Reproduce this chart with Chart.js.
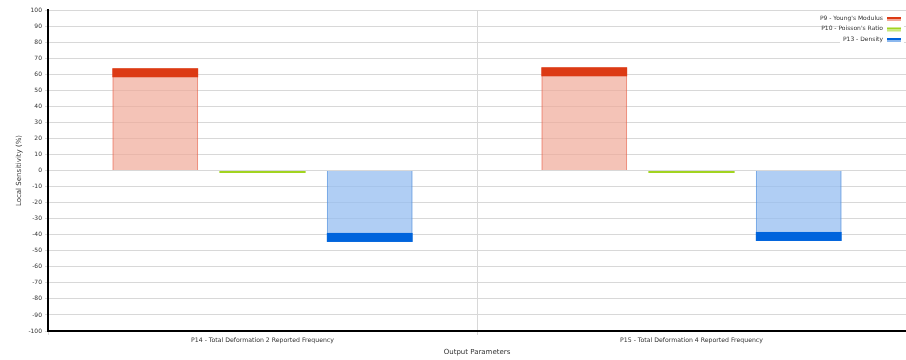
<!DOCTYPE html>
<html>
<head>
<meta charset="utf-8">
<script src="https://cdn.jsdelivr.net/npm/chart.js@4.4.1/dist/chart.umd.min.js"></script>
<style>
  html, body { margin: 0; padding: 0; background: #fff; }
  #wrap { width: 906px; height: 360px; }
</style>
</head>
<body>
<div id="wrap"><canvas id="sensitivityChart"></canvas></div>
<script>
// output parameters on the x axis
let outputParams = ['P14 - Total Deformation 2 Reported Frequency', 'P15 - Total Deformation 4 Reported Frequency'];

// local sensitivity (%) of each output to each input parameter
let youngsModulus = [63.7, 64.3];
let poissonsRatio = [-1.5, -1.5];
let density = [-44.5, -43.9];

let yTicks = [-100, -90, -80, -70, -60, -50, -40, -30, -20, -10, 0, 10, 20, 30, 40, 50, 60, 70, 80, 90, 100];

const FONT = '"DejaVu Sans", sans-serif';

// dark band drawn at the end of every bar
const barCaps = {
    id: 'barCaps',
    afterDatasetsDraw(chart) {
        let ctx = chart.ctx;
        chart.data.datasets.forEach((ds, i) => {
            let meta = chart.getDatasetMeta(i);
            meta.data.forEach(bar => {
                let len = Math.abs(bar.base - bar.y);
                let h = Math.min(9, len);
                let top = bar.y < bar.base ? bar.y : bar.y - h;
                ctx.save();
                ctx.fillStyle = ds.capColor;
                ctx.fillRect(bar.x - bar.width / 2, top, bar.width, h);
                ctx.restore();
            });
        });
    }
};

// legend in the top right corner, text first then the swatch
const cornerLegend = {
    id: 'cornerLegend',
    afterDraw(chart) {
        let ctx = chart.ctx;
        let right = chart.chartArea.right - 4;
        ctx.save();
        ctx.fillStyle = '#fff';
        ctx.fillRect(right - 62, 12, 64, 32);
        ctx.font = '6px ' + FONT;
        ctx.textAlign = 'right';
        ctx.textBaseline = 'middle';
        chart.data.datasets.forEach((ds, i) => {
            let y = 18 + i * 10.5;
            ctx.fillStyle = '#333';
            ctx.fillText(ds.label, right - 19, y);
            ctx.fillStyle = ds.capColor;
            ctx.fillRect(right - 15, y - 1, 14, 2);
            ctx.fillStyle = ds.legendLight;
            ctx.fillRect(right - 15, y + 1, 14, 2);
        });
        ctx.restore();
    }
};

let ctx = document.getElementById('sensitivityChart').getContext('2d');

new Chart(ctx, {
    type: 'bar',
    data: {
        labels: outputParams,
        datasets: [
            {
                label: "P9 - Young's Modulus",
                data: youngsModulus,
                backgroundColor: 'rgba(240,170,152,0.7)',
                borderColor: 'rgba(232,110,85,0.75)',
                borderWidth: 1.5,
                capColor: '#dc3a14',
                legendLight: '#f4a898'
            },
            {
                label: "P10 - Poisson's Ratio",
                data: poissonsRatio,
                backgroundColor: '#a6d824',
                borderColor: '#a6d824',
                borderWidth: 0,
                capColor: '#a2d420',
                legendLight: '#c8e87a'
            },
            {
                label: 'P13 - Density',
                data: density,
                backgroundColor: 'rgba(150,190,240,0.75)',
                borderColor: 'rgba(90,150,225,0.8)',
                borderWidth: 1.5,
                capColor: '#0064dc',
                legendLight: '#8cb8ee'
            }
        ]
    },
    options: {
        responsive: true,
        maintainAspectRatio: false,
        animation: false,
        categoryPercentage: 0.75,
        barPercentage: 0.8,
        layout: { padding: { top: 10, right: 0, left: 0, bottom: 0 } },
        scales: {
            x: {
                grid: { color: '#d8d8d8', offset: true, tickLength: 4, drawOnChartArea: true },
                border: { color: '#000', width: 2 },
                ticks: { font: { family: FONT, size: 6.2 }, color: '#333', padding: 2 },
                title: { display: true, text: 'Output Parameters', font: { family: FONT, size: 7 }, color: '#333', padding: { top: 2 } },
                afterFit(scale) { scale.height = 29; }
            },
            y: {
                min: -100,
                max: 100,
                afterBuildTicks(scale) { scale.ticks = yTicks.map(v => ({ value: v })); },
                grid: { color: '#d8d8d8', tickLength: 3 },
                border: { color: '#000', width: 2 },
                ticks: { font: { family: FONT, size: 6 }, color: '#333', padding: 3 },
                title: { display: true, text: 'Local Sensitivity (%)', font: { family: FONT, size: 7 }, color: '#333', padding: { top: 15, bottom: 0 } },
                afterFit(scale) { scale.width = 48; }
            }
        },
        plugins: {
            legend: { display: false },
            tooltip: { enabled: false }
        }
    },
    plugins: [barCaps, cornerLegend]
});
</script>
</body>
</html>
